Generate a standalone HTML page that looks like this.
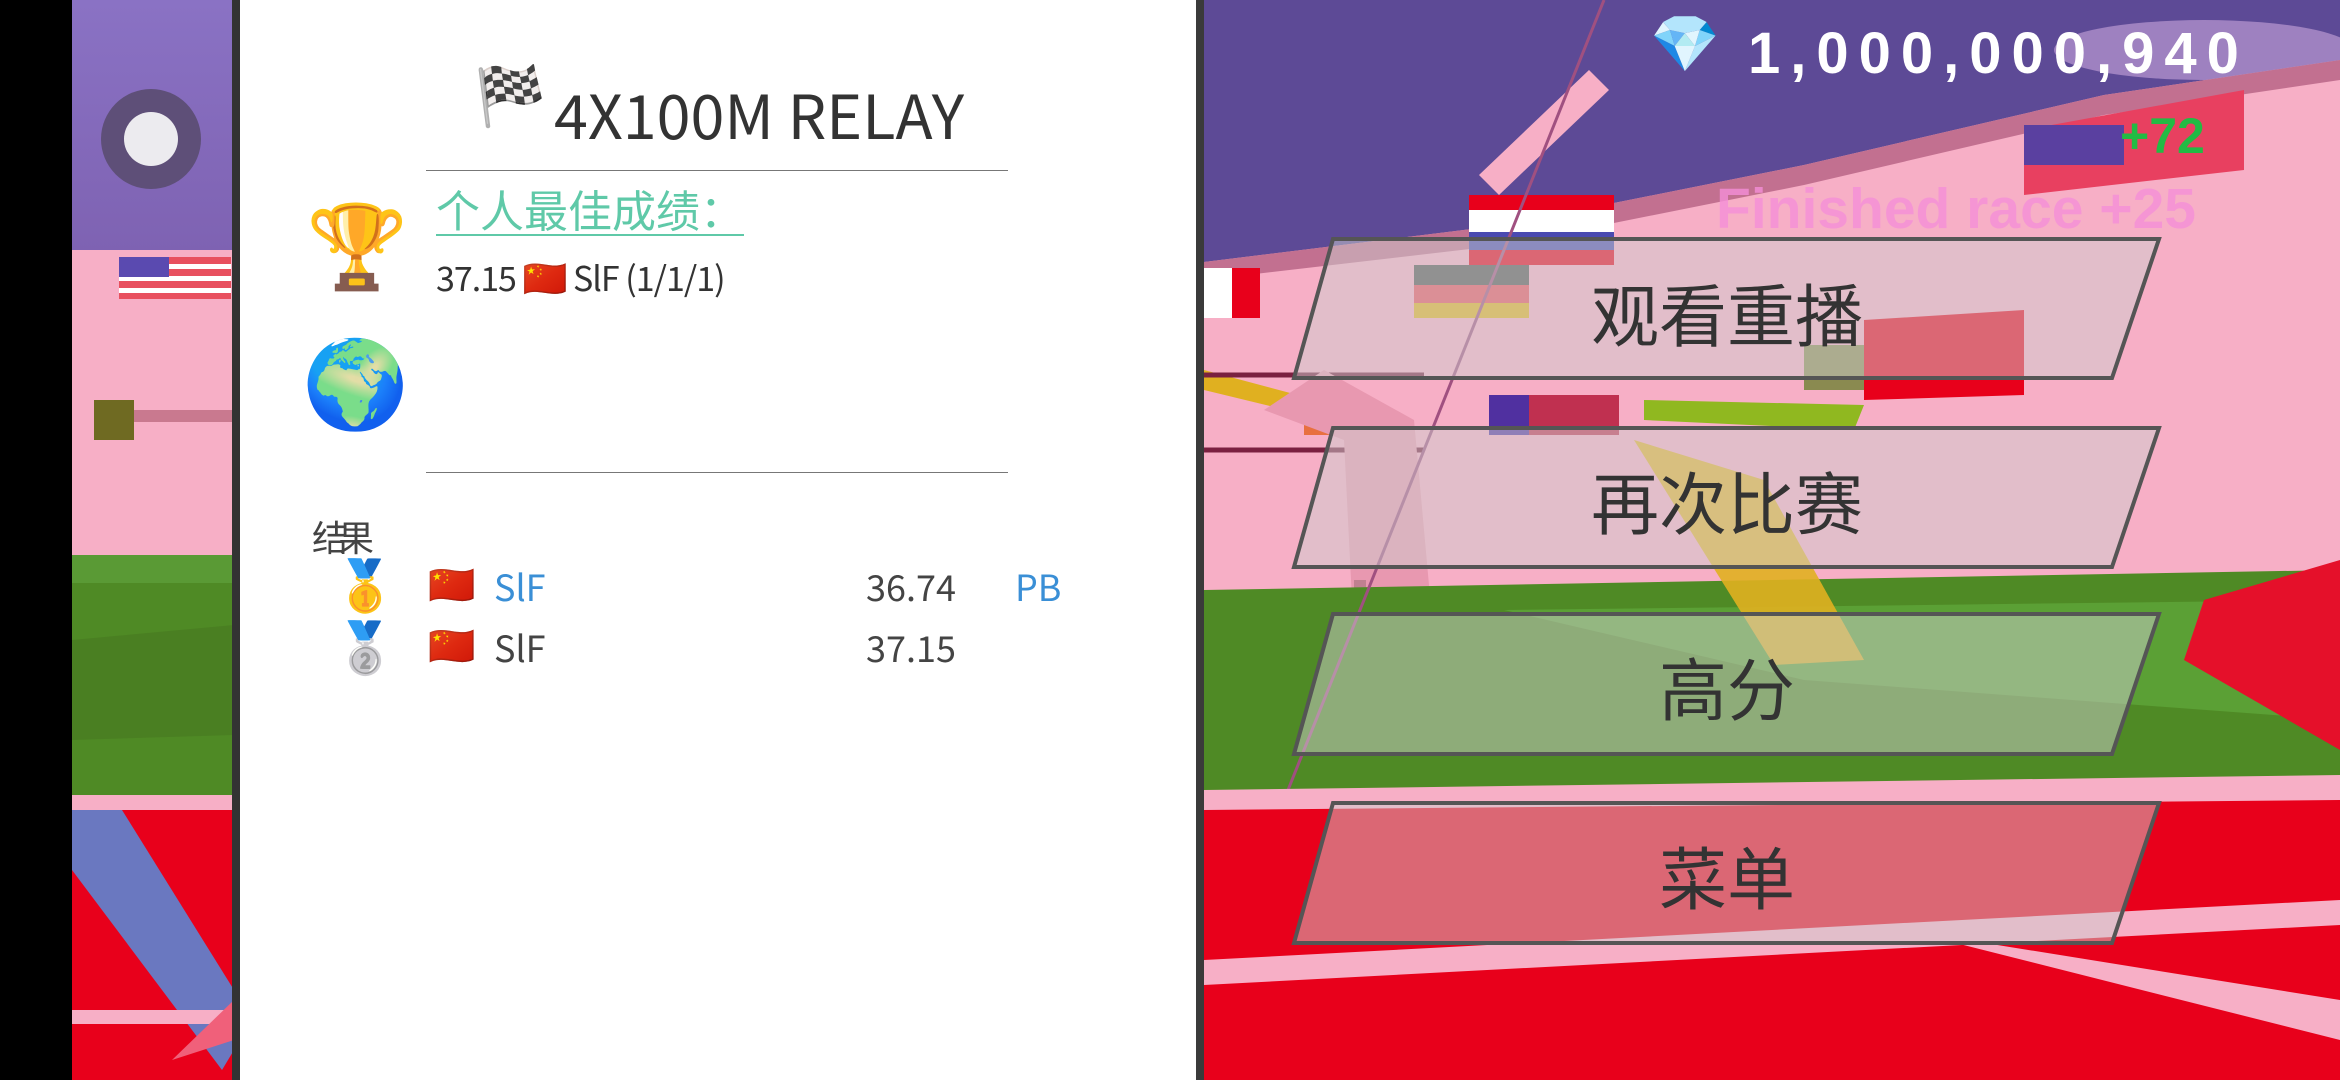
<!DOCTYPE html>
<html><head><meta charset="utf-8">
<style>
*{margin:0;padding:0;box-sizing:border-box}
html,body{width:2340px;height:1080px;overflow:hidden;background:#000}
.a{position:absolute;white-space:nowrap}
.cjk{font-family:"Noto Sans CJK SC","Liberation Sans",sans-serif}
</style></head>
<body>
<!-- left scene strip -->
<svg class="a" style="left:72px;top:0" width="162" height="1080">
<defs><linearGradient id="sk" x1="0" y1="0" x2="0" y2="1"><stop offset="0" stop-color="#8a72c4"/><stop offset="1" stop-color="#7e62b2"/></linearGradient></defs>
<rect width="162" height="255" fill="url(#sk)"/>
<rect y="250" width="162" height="310" fill="#f7afc6"/>
<rect x="47" y="257" width="112" height="42" fill="#e8505f"/>
<rect x="47" y="264" width="112" height="5" fill="#fff"/><rect x="47" y="276" width="112" height="5" fill="#fff"/><rect x="47" y="288" width="112" height="5" fill="#fff"/>
<rect x="47" y="257" width="50" height="20" fill="#5a4ab0"/>
<rect x="22" y="400" width="40" height="40" fill="#6f6a22"/>
<rect x="62" y="410" width="100" height="12" fill="#c9798f"/>
<rect y="555" width="162" height="28" fill="#5a9a35"/>
<rect y="583" width="162" height="215" fill="#4f8a25"/>
<polygon points="0,640 162,625 162,735 0,740" fill="#4a7f22"/>
<rect y="795" width="162" height="15" fill="#f7afc6"/>
<rect y="810" width="162" height="270" fill="#e8001b"/>
<polygon points="0,810 0,870 150,1070 162,1050 162,990 50,810" fill="#6a78c0"/>
<rect y="1010" width="162" height="14" fill="#f7afc6"/>
<polygon points="100,1060 162,1000 162,1040" fill="#f0607a"/>
</svg>
<div class="a" style="left:101px;top:89px;width:100px;height:100px;border-radius:50%;background:#5e4f78"></div>
<div class="a" style="left:124px;top:112px;width:54px;height:54px;border-radius:50%;background:#ecebef"></div>
<div class="a" style="left:232px;top:0;width:8px;height:1080px;background:#333"></div>

<!-- white panel -->
<div class="a" style="left:240px;top:0;width:956px;height:1080px;background:#fff"></div>
<div class="a" style="left:1196px;top:0;width:8px;height:1080px;background:#3a3a3a"></div>

<div class="a" style="left:474px;top:62px;font-size:58px;line-height:70px">🏁</div>
<div class="a cjk" style="left:554px;top:70px;font-size:61px;line-height:86px;color:#333">4X100M RELAY</div>
<div class="a" style="left:426px;top:170px;width:582px;height:1px;background:#777"></div>

<div class="a" style="left:306px;top:188px;font-size:82px;line-height:120px">🏆</div>
<div class="a cjk" style="left:436px;top:182px;font-size:44px;line-height:52px;color:#5fc9a8;border-bottom:2px solid #5fc9a8">个人最佳成绩：</div>
<div class="a cjk" style="left:436px;top:246px;font-size:34px;line-height:60px;color:#333;letter-spacing:-1px">37.15 <span style="font-size:36px">🇨🇳</span> SlF (1/1/1)</div>

<div class="a" style="left:302px;top:325px;font-size:86px;line-height:120px">🌍</div>
<div class="a" style="left:426px;top:472px;width:582px;height:1px;background:#777"></div>

<div class="a cjk" style="left:312px;top:511px;font-size:36px;line-height:50px;color:#444;letter-spacing:-10px">结果</div>
<div class="a" style="left:334px;top:550px;font-size:50px;line-height:72px">🥇</div>
<div class="a" style="left:334px;top:612px;font-size:50px;line-height:72px">🥈</div>
<div class="a" style="left:428px;top:558px;font-size:38px;line-height:56px">🇨🇳</div>
<div class="a" style="left:428px;top:619px;font-size:38px;line-height:56px">🇨🇳</div>
<div class="a cjk" style="left:494px;top:558px;font-size:36px;line-height:56px;color:#3a8fd6">SlF</div>
<div class="a cjk" style="left:866px;top:558px;font-size:36px;line-height:56px;color:#444">36.74</div>
<div class="a cjk" style="left:1015px;top:558px;font-size:36px;line-height:56px;color:#3a8fd6">PB</div>
<div class="a cjk" style="left:494px;top:619px;font-size:36px;line-height:56px;color:#444">SlF</div>
<div class="a cjk" style="left:866px;top:619px;font-size:36px;line-height:56px;color:#444">37.15</div>

<!-- right scene -->
<svg class="a" style="left:1204px;top:0" width="1136" height="1080">
<rect width="1136" height="1080" fill="#f7afc6"/>
<polygon points="0,0 1136,0 1136,60 900,95 600,165 300,225 0,262" fill="#5d4a96"/>
<ellipse cx="1000" cy="50" rx="150" ry="30" fill="#c9a7dc" opacity="0.6"/>
<polygon points="0,262 300,225 600,165 900,95 1136,60 1136,80 900,115 600,185 300,245 0,280" fill="#c27090"/>
<polygon points="275,175 295,195 405,90 385,70" fill="#f7afc6"/>
<rect x="0" y="268" width="28" height="50" fill="#fff"/><rect x="28" y="268" width="28" height="50" fill="#e8001b"/>
<rect x="210" y="265" width="115" height="20" fill="#555"/><rect x="210" y="285" width="115" height="18" fill="#e8505f"/><rect x="210" y="303" width="115" height="15" fill="#e0b020"/>
<rect x="265" y="195" width="145" height="70" fill="#e8001b"/><rect x="265" y="210" width="145" height="22" fill="#fff"/><rect x="265" y="232" width="145" height="18" fill="#4a4ab0"/>
<polygon points="820,130 1040,90 1040,170 820,195" fill="#e84060"/>
<rect x="820" y="125" width="100" height="40" fill="#5a40a0"/>
<polygon points="660,320 820,310 820,395 660,400" fill="#e8001b"/>
<rect x="600" y="345" width="60" height="45" fill="#8a8a50"/>
<polygon points="440,400 660,405 650,430 440,420" fill="#90b820"/>
<rect x="285" y="395" width="130" height="40" fill="#c03050"/><rect x="285" y="395" width="40" height="40" fill="#5030a0"/>
<rect x="100" y="410" width="60" height="25" fill="#e87040"/>
<polygon points="0,370 180,418 185,435 0,390" fill="#e0b020"/>
<line x1="0" y1="375" x2="220" y2="375" stroke="#7a2040" stroke-width="5"/>
<line x1="0" y1="450" x2="220" y2="450" stroke="#7a2040" stroke-width="5"/>
<polygon points="120,370 210,420 230,640 150,640 140,440 60,410" fill="#e898b0"/>
<rect x="150" y="580" width="12" height="80" fill="#c08090"/>
<polygon points="0,590 1136,570 1136,790 0,795" fill="#4f8a25"/>
<polygon points="300,610 1136,600 1136,720 600,680" fill="#5ba035"/>
<polygon points="430,440 560,480 660,660 570,665" fill="#e0b020" opacity="0.9"/>
<line x1="80" y1="800" x2="400" y2="0" stroke="#a05080" stroke-width="3"/>
<polygon points="1000,600 1136,560 1136,750 980,660" fill="#e5102a"/>
<rect y="790" width="1136" height="290" fill="#e8001b"/>
<polygon points="0,790 1136,775 1136,800 0,810" fill="#f7afc6"/>
<polygon points="0,960 1136,900 1136,925 0,985" fill="#f7afc6"/>
<polygon points="700,930 1136,1000 1136,1040" fill="#f7afc6"/>
</svg>
<!-- buttons -->
<svg class="a" style="left:1204px;top:0" width="1136" height="1080">
<g stroke="#555" stroke-width="4" fill="rgba(205,205,205,0.5)">
<polygon points="129,239 955,239 908,378 90,378"/>
<polygon points="129,428 955,428 908,567 90,567"/>
<polygon points="129,614 955,614 908,754 90,754"/>
<polygon points="129,803 955,803 908,943 90,943"/>
</g>
</svg>
<div class="a cjk" style="left:1527px;top:264px;width:400px;text-align:center;font-size:68px;line-height:96px;color:#333">观看重播</div>
<div class="a cjk" style="left:1527px;top:452px;width:400px;text-align:center;font-size:68px;line-height:96px;color:#333">再次比赛</div>
<div class="a cjk" style="left:1527px;top:638px;width:400px;text-align:center;font-size:68px;line-height:96px;color:#333">高分</div>
<div class="a cjk" style="left:1527px;top:827px;width:400px;text-align:center;font-size:68px;line-height:96px;color:#333">菜单</div>
<div class="a" style="left:1716px;top:176px;font-family:'Liberation Sans',sans-serif;font-weight:bold;font-size:57px;color:#f58fd8;opacity:0.8">Finished race +25</div>
<div class="a" style="left:1650px;top:10px;font-size:56px;line-height:70px">💎</div>
<div class="a" style="left:1748px;top:20px;font-family:'Liberation Sans',sans-serif;font-weight:bold;font-size:58px;line-height:68px;color:#fff;letter-spacing:10px">1,000,000,940</div>
<div class="a" style="left:2120px;top:108px;font-family:'Liberation Sans',sans-serif;font-weight:bold;font-size:50px;line-height:56px;color:#22bb44">+72</div>
</body></html>
